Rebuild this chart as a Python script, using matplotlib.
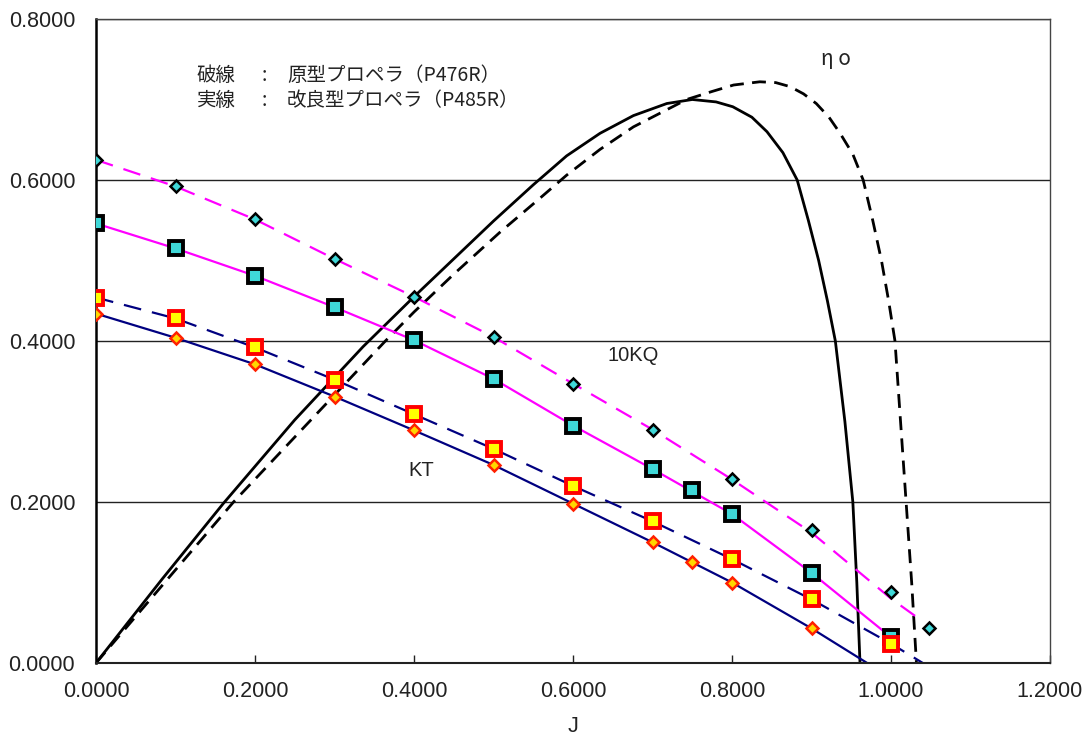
import matplotlib
matplotlib.use('Agg')
import matplotlib.pyplot as plt
from matplotlib.ticker import FormatStrFormatter, MultipleLocator

plt.rcParams['font.family'] = ['Liberation Sans', 'Noto Sans CJK JP', 'DejaVu Sans']

# --- 測定点 (markers) ---
j_kq_orig = [0.0, 0.1, 0.2, 0.3, 0.4, 0.5, 0.6, 0.7, 0.8, 0.9, 1.0, 1.048]
kq_orig = [0.625, 0.592, 0.551, 0.502, 0.455, 0.405, 0.347, 0.290, 0.228, 0.165, 0.088, 0.043]

j_kq_new = [0.0, 0.1, 0.2, 0.3, 0.4, 0.5, 0.6, 0.7, 0.75, 0.8, 0.9, 1.0]
kq_new = [0.546, 0.515, 0.481, 0.442, 0.401, 0.353, 0.295, 0.241, 0.215, 0.185, 0.112, 0.032]

j_kt_orig = [0.0, 0.1, 0.2, 0.3, 0.4, 0.5, 0.6, 0.7, 0.8, 0.9, 1.0]
kt_orig = [0.454, 0.428, 0.392, 0.352, 0.309, 0.266, 0.220, 0.176, 0.129, 0.079, 0.024]

j_kt_new = [0.0, 0.1, 0.2, 0.3, 0.4, 0.5, 0.6, 0.7, 0.75, 0.8, 0.9]
kt_new = [0.434, 0.404, 0.371, 0.331, 0.289, 0.246, 0.198, 0.150, 0.126, 0.100, 0.043]

# --- 曲線 (fitted curves) ---
jl_kq_orig = [0.0, 0.1, 0.2, 0.3, 0.4, 0.5, 0.6, 0.7, 0.8, 0.9, 1.0, 1.038]
kq_orig_line = [0.625, 0.592, 0.551, 0.502, 0.455, 0.405, 0.347, 0.290, 0.228, 0.162, 0.080, 0.053]

jl_kq_new = [0.0, 0.1, 0.2, 0.3, 0.4, 0.5, 0.6, 0.7, 0.8, 0.9, 1.0]
kq_new_line = [0.546, 0.515, 0.481, 0.442, 0.401, 0.353, 0.295, 0.241, 0.185, 0.112, 0.032]

jl_kt_orig = [0.0, 0.1, 0.2, 0.3, 0.4, 0.5, 0.6, 0.7, 0.8, 0.9, 1.0, 1.04]
kt_orig_line = [0.454, 0.428, 0.392, 0.352, 0.309, 0.266, 0.220, 0.176, 0.129, 0.079, 0.024, 0.0]

jl_kt_new = [0.0, 0.1, 0.2, 0.3, 0.4, 0.5, 0.6, 0.7, 0.8, 0.9, 0.97]
kt_new_line = [0.434, 0.404, 0.371, 0.331, 0.289, 0.246, 0.198, 0.150, 0.100, 0.043, 0.0]

# 効率 ηo
j_eta_new = [0.0, 0.083, 0.160, 0.250, 0.336, 0.400, 0.450, 0.500, 0.550, 0.592,
             0.634, 0.676, 0.718, 0.750, 0.780, 0.801, 0.825, 0.844, 0.864, 0.882,
             0.896, 0.909, 0.920, 0.930, 0.942, 0.952, 0.957, 0.961]
eta_new = [0.0, 0.104, 0.198, 0.302, 0.393, 0.455, 0.502, 0.549, 0.594, 0.630,
           0.658, 0.680, 0.695, 0.700, 0.697, 0.691, 0.678, 0.660, 0.634, 0.600,
           0.550, 0.500, 0.450, 0.400, 0.300, 0.200, 0.100, 0.0]

j_eta_orig = [0.0, 0.089, 0.173, 0.300, 0.364, 0.400, 0.450, 0.508, 0.558, 0.592,
              0.634, 0.676, 0.743, 0.775, 0.802, 0.835, 0.855, 0.873, 0.890, 0.906,
              0.922, 0.936, 0.952, 0.965, 0.977, 0.988, 0.997, 1.005, 1.012, 1.019,
              1.026, 1.032]
eta_orig = [0.0, 0.103, 0.200, 0.333, 0.400, 0.436, 0.483, 0.535, 0.577, 0.606,
            0.638, 0.666, 0.700, 0.710, 0.718, 0.722, 0.721, 0.716, 0.707, 0.695,
            0.678, 0.658, 0.632, 0.600, 0.550, 0.500, 0.450, 0.400, 0.300, 0.200,
            0.100, 0.0]

magenta = '#FF00FF'
navy = '#000080'
cyan = '#3FD8D8'

fig = plt.figure(figsize=(10.84, 7.37), dpi=100)
ax = fig.add_axes([96 / 1084, 74 / 737, 954 / 1084, 644 / 737])

# 効率
ax.plot(j_eta_new, eta_new, color='black', lw=2.0, solid_joinstyle='round')
ax.plot(j_eta_orig, eta_orig, color='black', lw=2.0, dashes=(5, 3), dash_joinstyle='round')

# 曲線
ax.plot(jl_kq_orig, kq_orig_line, color=magenta, lw=1.6, dashes=(8, 5))
ax.plot(jl_kq_new, kq_new_line, color=magenta, lw=1.6)
ax.plot(jl_kt_orig, kt_orig_line, color=navy, lw=1.6, dashes=(8, 5))
ax.plot(jl_kt_new, kt_new_line, color=navy, lw=1.6)

# 測定点
ax.plot(j_kq_orig, kq_orig, ls='none', marker='D', ms=6.5, mfc=cyan, mec='black', mew=1.8, zorder=5)
ax.plot(j_kq_new, kq_new, ls='none', marker='s', ms=9.5, mfc=cyan, mec='black', mew=2.8, zorder=5)
ax.plot(j_kt_orig, kt_orig, ls='none', marker='s', ms=9.5, mfc='#FFFF00', mec='#FF0000', mew=2.8, zorder=6)
ax.plot(j_kt_new, kt_new, ls='none', marker='D', ms=6.5, mfc='#FFD700', mec='#FF2000', mew=1.8, zorder=6)

ax.set_xlim(0, 1.2)
ax.set_ylim(0, 0.8)
ax.xaxis.set_major_locator(MultipleLocator(0.2))
ax.yaxis.set_major_locator(MultipleLocator(0.2))
ax.xaxis.set_major_formatter(FormatStrFormatter('%.4f'))
ax.yaxis.set_major_formatter(FormatStrFormatter('%.4f'))
ax.tick_params(axis='x', direction='in', length=6, width=1, pad=13, labelsize=15.5, colors='#222222')
ax.tick_params(axis='y', length=0, pad=15, labelsize=15.5, colors='#222222')
ax.yaxis.grid(True, color='#222222', lw=1.0)
ax.set_axisbelow(True)

ax.spines['left'].set_linewidth(1.8)
ax.spines['left'].set_color('black')
ax.spines['bottom'].set_linewidth(1.5)
ax.spines['bottom'].set_color('#222222')
for s in ('top', 'right'):
    ax.spines[s].set_linewidth(1.0)
    ax.spines[s].set_color('#444444')

ax.set_xlabel('J', fontsize=15.5, color='#222222', labelpad=10)

# 注記
cjk = ['Noto Sans CJK JP', 'DejaVu Sans']
ax.text(0.127, 0.730, '破線', family=cjk, fontsize=14, va='center', color='#222222')
ax.text(0.208, 0.730, ':', family=cjk, fontsize=14, va='center', color='#222222')
ax.text(0.240, 0.730, '原型プロペラ（P476R）', family=cjk, fontsize=14, va='center', color='#222222')
ax.text(0.127, 0.699, '実線', family=cjk, fontsize=14, va='center', color='#222222')
ax.text(0.208, 0.699, ':', family=cjk, fontsize=14, va='center', color='#222222')
ax.text(0.240, 0.699, '改良型プロペラ（P485R）', family=cjk, fontsize=14, va='center', color='#222222')

ax.text(0.912, 0.750, 'η o', family=cjk, fontsize=15, va='center', color='#222222', style='italic')
ax.text(0.644, 0.382, '10KQ', fontsize=14.5, va='center', color='#222222')
ax.text(0.393, 0.239, 'KT', fontsize=14.5, va='center', color='#222222')

fig.savefig('out.png', dpi=100)
